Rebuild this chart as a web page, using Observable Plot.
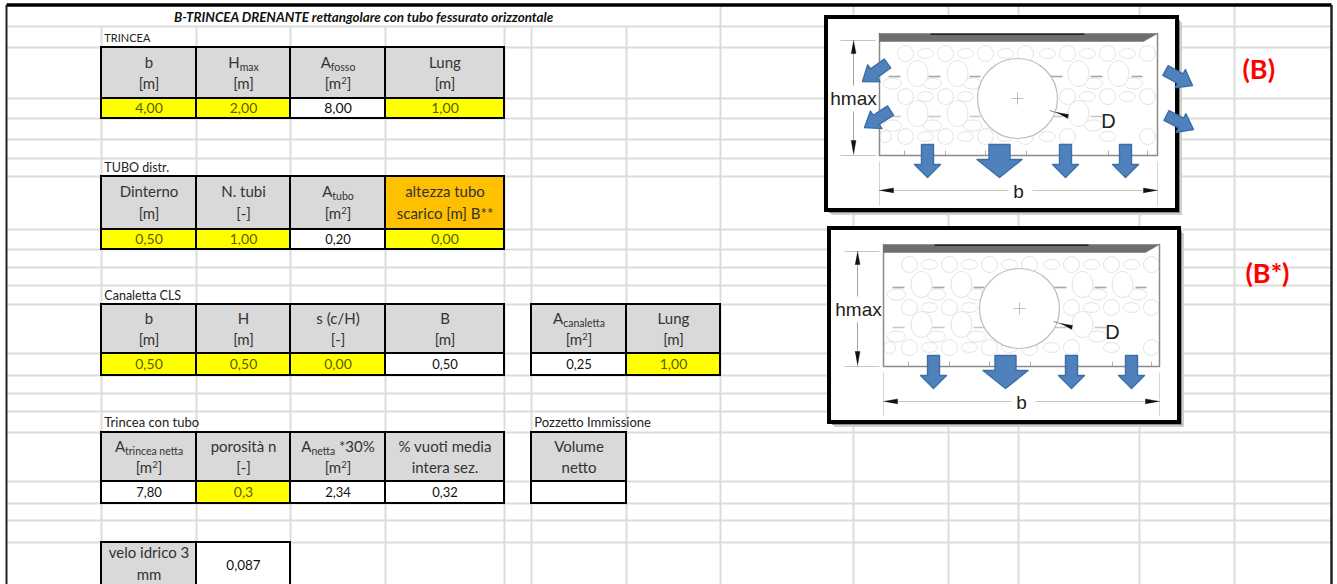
<!DOCTYPE html>
<html><head><meta charset="utf-8">
<script src="https://cdn.jsdelivr.net/npm/d3@7"></script>
<script src="https://cdn.jsdelivr.net/npm/@observablehq/plot@0.6"></script>
<style>
html,body{margin:0;padding:0;background:#fff;width:1337px;height:584px;overflow:hidden}
#sheet{position:relative;width:1337px;height:584px}
#sheet svg{position:absolute;background:transparent;display:block}
</style></head><body><div id="sheet"></div>
<script>
// ---- sheet text and values ----
const titleText = "B-TRINCEA DRENANTE rettangolare con tubo fessurato orizzontale";
const sectionLabels = ["TRINCEA", "TUBO distr.", "Canaletta CLS", "Trincea con tubo", "Pozzetto Immissione"];
const trinceaHead = ["b", "H_{max}", "A_{fosso}", "Lung"];
const trinceaUnit = ["[m]", "[m]", "[m^{2}]", "[m]"];
const trinceaVal = ["4,00", "2,00", "8,00", "1,00"];
const trinceaInput = [true, true, false, true];
const tuboHead = ["Dinterno", "N. tubi", "A_{tubo}", "altezza tubo"];
const tuboUnit = ["[m]", "[-]", "[m^{2}]", "scarico [m] B**"];
const tuboVal = ["0,50", "1,00", "0,20", "0,00"];
const tuboInput = [true, true, false, true];
const canalHead = ["b", "H", "s (c/H)", "B"];
const canalUnit = ["[m]", "[m]", "[-]", "[m]"];
const canalVal = ["0,50", "0,50", "0,00", "0,50"];
const canalInput = [true, true, true, false];
const canal2Head = ["A_{canaletta}", "Lung"];
const canal2Unit = ["[m^{2}]", "[m]"];
const canal2Val = ["0,25", "1,00"];
const canal2Input = [false, true];
const nettaHead = ["A_{trincea netta}", "porosità n", "A_{netta} *30%", "% vuoti media"];
const nettaUnit = ["[m^{2}]", "[-]", "[m^{2}]", "intera sez."];
const nettaVal = ["7,80", "0,3", "2,34", "0,32"];
const nettaInput = [false, true, false, false];
const pozzHead = ["Volume"], pozzUnit = ["netto"], pozzVal = [""], pozzInput = [false];
const veloHead = "velo idrico 3", veloUnit = "mm", veloVal = "0,087";
const picLabels = ["(B)", "(B*)"];

// ---- sheet geometry (the x and y scales map column / row numbers to the sheet) ----
const colEdges = [6,101,196,290,385,504,531,626,720,853,948,1018,1139,1234,1331];
const rowEdges = [4.5,26,47,98,118,139,158,176,229,249,267,285,304,353,375,393,411,432,481,503,520,542,588];
const colIdx = colEdges.map((_, i) => i), rowIdx = rowEdges.map((_, i) => i);

function table(c0, r, heads, units, vals, inputs) {
  return heads.map((h, i) => ({c: c0 + i, r, h, u: units[i], v: vals[i], input: inputs[i]}));
}
const tables = [
  ...table(1, 2, trinceaHead, trinceaUnit, trinceaVal, trinceaInput),
  ...table(1, 7, tuboHead, tuboUnit, tuboVal, tuboInput),
  ...table(1, 12, canalHead, canalUnit, canalVal, canalInput),
  ...table(6, 12, canal2Head, canal2Unit, canal2Val, canal2Input),
  ...table(1, 17, nettaHead, nettaUnit, nettaVal, nettaInput),
  ...table(6, 17, pozzHead, pozzUnit, pozzVal, pozzInput)
];
const accent = d => d.c === 4 && d.r === 7;
const labels = [
  {t: sectionLabels[0], c: 1, r: 1, fs: 11},
  {t: sectionLabels[1], c: 1, r: 6, fs: 12.5},
  {t: sectionLabels[2], c: 1, r: 11, fs: 12.5},
  {t: sectionLabels[3], c: 1, r: 16, fs: 13},
  {t: sectionLabels[4], c: 6, r: 16, fs: 13}
];
const gridV = colIdx.slice(1, 14).map(c => ({c, r0: c >= 8 ? 0 : 1}));

const sheet = Plot.plot({
  width: 1337, height: 584, margin: 0,
  style: {fontFamily: "Lato", background: "#fff"},
  x: {type: "linear", domain: colIdx, range: colEdges, axis: null},
  y: {type: "linear", domain: rowIdx, range: rowEdges, axis: null},
  marks: [
    Plot.link(rowIdx.slice(1, 22), {x1: 0, x2: 14, y1: r => r, y2: r => r, stroke: "#dcdcdc", strokeWidth: 2}),
    Plot.link(gridV, {x1: "c", x2: "c", y1: "r0", y2: 22, stroke: "#dcdcdc", strokeWidth: 2}),
    // sheet frame
    Plot.link([0], {x1: 0, x2: 14, y1: 0, y2: 0, stroke: "#000", strokeWidth: 3.5}),
    Plot.link([0], {x1: 0, x2: 0, y1: 0, y2: 22, stroke: "#222", strokeWidth: 2}),
    Plot.link([14], {x1: 14, x2: 14, y1: 0, y2: 22, stroke: "#222", strokeWidth: 2.5}),
    // cells
    Plot.rect(tables, {x1: "c", x2: d => d.c + 1, y1: "r", y2: d => d.r + 1,
      fill: d => accent(d) ? "#ffc000" : "#d9d9d9", stroke: "#000", strokeWidth: 2}),
    Plot.rect(tables, {x1: "c", x2: d => d.c + 1, y1: d => d.r + 1, y2: d => d.r + 2,
      fill: d => d.input ? "#ffff00" : "#fff", stroke: "#000", strokeWidth: 2}),
    Plot.rect([0], {x1: 1, x2: 2, y1: 21, y2: 22, fill: "#d9d9d9", stroke: "#000", strokeWidth: 2}),
    Plot.rect([0], {x1: 2, x2: 3, y1: 21, y2: 22, fill: "#fff", stroke: "#000", strokeWidth: 2}),
    // cell text
    Plot.text(tables, {x: d => d.c + 0.5, y: d => d.r + 0.3, text: "h", fontSize: 15, fill: "#333"}),
    Plot.text(tables, {x: d => d.c + 0.5, y: d => d.r + 0.72, text: "u", fontSize: 15, fill: "#333"}),
    Plot.text(tables, {x: d => d.c + 0.5, y: d => d.r + 1.52, text: "v",
      fontSize: d => (d.input || d.v === "8,00") ? 14 : 13, fill: d => d.input ? "#5c5c00" : "#111"}),
    Plot.text([veloHead], {x: 1.5, y: 21.24, text: d => d, fontSize: 15, fill: "#333"}),
    Plot.text([veloUnit], {x: 1.5, y: 21.72, text: d => d, fontSize: 15, fill: "#333"}),
    Plot.text([veloVal], {x: 2.5, y: 21.5, text: d => d, fontSize: 13.5, fill: "#111"}),
    // titles
    Plot.text([titleText], {x: 3.77, y: 0.6, text: d => d, fontSize: 13.4, fontWeight: "bold", fontStyle: "italic", fill: "#111"}),
    Plot.text(labels, {x: d => d.c + 0.03, y: d => d.r + 0.55, text: "t", textAnchor: "start", fontSize: d => d.fs, fill: "#222"}),
    Plot.text([picLabels[0]], {x: 13.25, y: 2.45, text: d => d, fontSize: 27, fontWeight: "bold", fill: "#ff0000"}),
    Plot.text([picLabels[1]], {x: 13.34, y: 10.36, text: d => d, fontSize: 27, fontWeight: "bold", fill: "#ff0000"})
  ]
});

// turn _{..} and ^{..} into real sub- and superscripts
sheet.querySelectorAll("text").forEach(t => {
  const s = t.textContent;
  if (!/[_^]\{/.test(s)) return;
  t.textContent = "";
  const NS = "http://www.w3.org/2000/svg";
  let pending = 0;
  s.split(/([_^]\{[^}]*\})/).filter(Boolean).forEach(p => {
    const ts = document.createElementNS(NS, "tspan");
    const m = p.match(/^([_^])\{(.*)\}$/);
    if (m) {
      const dy = m[1] === "_" ? 3 : -5;
      ts.textContent = m[2];
      ts.setAttribute("font-size", m[1] === "_" ? 10.5 : 9.5);
      ts.setAttribute("dy", dy + pending);
      pending = -dy;
    } else {
      ts.textContent = p;
      if (pending) ts.setAttribute("dy", pending);
      pending = 0;
    }
    t.appendChild(ts);
  });
});

// ---- trench drawing: units are the picture's own pixels, from the trench's top-left corner ----
const pebbleRoundX = [26,66,106,146,188,228,268, 26,66,188,228,268, 6,26,66,106,146,188,268];
const pebbleRoundY = [20,20,20,20,20,20,20, 63,63,63,63,63, 103,103,103,103,103,103,103];
const pebbleRoundR = [8,8,8,8,8,8,8, 8,8,8,8,8, 6,8,8,8,8,8,8];
const pebbleWideX = [46,86,126,168,208,248, 46,86,208,248, 13,53,93,214,254, 13,53,93,214, 46,86,126,168,228];
const pebbleWideY = [20,20,20,20,20,20, 63,63,63,63, 50,50,50,50,50, 92,92,92,92, 103,103,103,103,103];
const pebbleWideR = [8,8,8,8,8,8, 8,8,8,8, 9,9,9,9,9, 9,9,9,9, 8,8,8,8,8];
const pebbleTallX = [38,78,199,239, 38,78,199];
const pebbleTallY = [40,40,40,40, 80,80,80];
const pebbleTallR = [13,13,13,13, 13,13,13];
const dashX1 = [9,49,90,171,211,252, 9,49,90,171,211];
const dashX2 = [21,61,101,183,223,263, 21,61,101,183,223];
const dashY = [43,43,43,43,43,43, 83,83,83,83,83];
const dashTone = ["#a8a8a8","#a8a8a8","#a8a8a8","#a8a8a8","#a8a8a8","#a8a8a8","#c8c8c8","#c8c8c8","#c8c8c8","#c8c8c8","#c8c8c8"];
const footTicks = [25,66,106,147,188,229,268];

function oval(kx, ky) {
  return {draw(ctx, size) {
    const r = Math.sqrt(size / Math.PI), a = r * kx, b = r * ky, k = 0.5523;
    ctx.moveTo(a, 0);
    ctx.bezierCurveTo(a, k * b, k * a, b, 0, b);
    ctx.bezierCurveTo(-k * a, b, -a, k * b, -a, 0);
    ctx.bezierCurveTo(-a, -k * b, -k * a, -b, 0, -b);
    ctx.bezierCurveTo(k * a, -b, a, -k * b, a, 0);
    ctx.closePath();
  }};
}
function blockArrow(id, tx, ty, hx, hy, stem, head, len) {
  const L = Math.hypot(hx - tx, hy - ty), ux = (hx - tx) / L, uy = (hy - ty) / L, nx = -uy, ny = ux;
  const bx = hx - ux * len, by = hy - uy * len;
  return [[tx + nx * stem / 2, ty + ny * stem / 2], [bx + nx * stem / 2, by + ny * stem / 2],
    [bx + nx * head / 2, by + ny * head / 2], [hx, hy], [bx - nx * head / 2, by - ny * head / 2],
    [bx - nx * stem / 2, by - ny * stem / 2], [tx - nx * stem / 2, ty - ny * stem / 2], [tx + nx * stem / 2, ty + ny * stem / 2]]
    .map(([x, y]) => ({id, x, y}));
}
const poly = (id, pts) => pts.map(([x, y]) => ({id, x, y}));
const ids = a => a.map((_, i) => i);

function diagram(left, top, cfg) {
  const W = 390, H = 220, ox = 62, oy = 24;
  const arrowPts = [
    ...cfg.down.map((x, i) => i === 1
      ? blockArrow("d" + i, x, 111, x, 144, 21, 45, 18)
      : blockArrow("d" + i, x, 111, x, 144, 12, 26, 13)),
    ...cfg.side.map((s, i) => blockArrow("s" + i, s[0], s[1], s[2], s[3], 11, 21, 14))
  ].flat();
  const heads = [
    ...poly("up", [[-26,7],[-23.5,20],[-28.5,20]]),
    ...poly("dn", [[-26,121],[-23.5,107],[-28.5,107]]),
    ...poly("lf", [[0,157],[14,154.5],[14,159.5]]),
    ...poly("rt", [[cfg.w,157],[cfg.w-14,154.5],[cfg.w-14,159.5]]),
    ...poly("ld", [[177,79],[189,81],[188,85]])
  ];
  const lines = [
    {x1:-39,y1:7,x2:-4,y2:7,s:"#c4c4c4"}, {x1:-39,y1:122,x2:-4,y2:122,s:"#c4c4c4"},
    {x1:-26,y1:15,x2:-26,y2:52,s:"#a0a0a0"}, {x1:-26,y1:78,x2:-26,y2:115,s:"#a0a0a0"},
    {x1:8,y1:157,x2:cfg.w/2-10,y2:157,s:"#c4c4c4"}, {x1:cfg.w/2+14,y1:157,x2:cfg.w-8,y2:157,s:"#c4c4c4"},
    {x1:0,y1:128,x2:0,y2:172,s:"#d4d4d4"}, {x1:cfg.w,y1:128,x2:cfg.w,y2:172,s:"#d4d4d4"},
    {x1:cfg.c[0]-6,y1:cfg.c[1],x2:cfg.c[0]+6,y2:cfg.c[1],s:"#bdbdbd"},
    {x1:cfg.c[0],y1:cfg.c[1]-6,x2:cfg.c[0],y2:cfg.c[1]+6,s:"#bdbdbd"},
    {x1:170,y1:77,x2:180,y2:80,s:"#888"}
  ];
  const f = cfg.frame;
  const p = Plot.plot({
    width: W, height: H, margin: 0,
    style: {fontFamily: "Liberation Sans", background: "transparent"},
    x: {domain: [-ox, W - ox], range: [0, W], axis: null},
    y: {domain: [-oy, H - oy], range: [0, H], axis: null},
    r: {type: "identity"},
    marks: [
      // soft shadow and black frame
      Plot.rect([f], {x1: d => d[0] + 5, x2: d => d[2] + 5, y1: d => d[1] + 5, y2: d => d[3] + 5, fill: "#cfcfcf"}),
      Plot.rect([f], {x1: d => d[0] + 3, x2: d => d[2] + 3, y1: d => d[1] + 3, y2: d => d[3] + 3, fill: "#8c8c8c"}),
      Plot.rect([f], {x1: d => d[0], x2: d => d[2], y1: d => d[1], y2: d => d[3], fill: "#fff", stroke: "#000", strokeWidth: 4}),
      // gravel
      Plot.dot(ids(pebbleRoundX), {x: i => pebbleRoundX[i], y: i => pebbleRoundY[i], r: i => pebbleRoundR[i], stroke: "#e2e2e2", fill: "#fff", strokeWidth: 1}),
      Plot.dot(ids(pebbleWideX), {x: i => pebbleWideX[i], y: i => pebbleWideY[i], r: i => pebbleWideR[i], symbol: oval(1, 0.62), stroke: "#e2e2e2", fill: "#fff", strokeWidth: 1}),
      Plot.dot(ids(pebbleTallX), {x: i => pebbleTallX[i], y: i => pebbleTallY[i], r: i => pebbleTallR[i], symbol: oval(0.8, 1), stroke: "#e2e2e2", fill: "#fff", strokeWidth: 1}),
      Plot.link(ids(dashX1), {x1: i => dashX1[i], x2: i => dashX2[i], y1: i => dashY[i], y2: i => dashY[i], stroke: i => dashTone[i], strokeWidth: 1.6}),
      Plot.link(footTicks, {x1: d => d, x2: d => d, y1: 117, y2: 122, stroke: "#b0b0b0", strokeWidth: 1}),
      // trench walls
      Plot.line(poly("w", [[0,0],[0,122],[cfg.w,122],[cfg.w,0]]), {x: "x", y: "y", stroke: "#8a8a8a", strokeWidth: 1.5}),
      // hatched top layer
      Plot.line(poly("top", [[0,0],[cfg.w,0],[cfg.w-14,8],[0,8],[0,0]]), {x: "x", y: "y", fill: "#6e6e6e", stroke: "#6e6e6e", strokeWidth: 0.5}),
      Plot.link([0], {x1: 51, x2: 205, y1: 0.8, y2: 0.8, stroke: "#222", strokeWidth: 1.6}),
      // pipe
      Plot.dot([cfg.c], {x: d => d[0], y: d => d[1], r: 40, fill: "#fff", stroke: "#bdbdbd", strokeWidth: 1.2}),
      Plot.link(lines, {x1: "x1", y1: "y1", x2: "x2", y2: "y2", stroke: "s", strokeWidth: 1}),
      Plot.line(heads, {x: "x", y: "y", z: "id", fill: "#111", stroke: "#111", strokeWidth: 0.4}),
      // infiltration arrows
      Plot.line(arrowPts, {x: "x", y: "y", z: "id", fill: "#4f81bd", stroke: "#3c6ea8", strokeWidth: 1.4}),
      Plot.text(["hmax"], {x: cfg.hx, y: 65, text: d => d, fontSize: 19, fill: "#222"}),
      Plot.text(["D"], {x: 229, y: 88, text: d => d, fontSize: 20, fill: "#222"}),
      Plot.text(["b"], {x: cfg.w / 2, y: 158, text: d => d, fontSize: 19, fill: "#222"})
    ]
  });
  p.style.left = (left - ox) + "px";
  p.style.top = (top - oy) + "px";
  return p;
}

const holder = document.getElementById("sheet");
sheet.style.left = "0"; sheet.style.top = "0";
holder.appendChild(sheet);
holder.appendChild(diagram(879, 33, {
  w: 278, c: [138, 65], hx: -26, frame: [-53, -16, 298, 177],
  down: [48, 120, 186, 246],
  side: [[8, 30, -17, 48], [11, 77, -15, 94], [286, 37, 313, 52], [287, 82, 314, 96]]
}));
holder.appendChild(diagram(883, 244, {
  w: 276, c: [136, 64], hx: -25, frame: [-54, -16, 296, 178],
  down: [50, 122, 188, 248],
  side: []
}));
</script></body></html>
